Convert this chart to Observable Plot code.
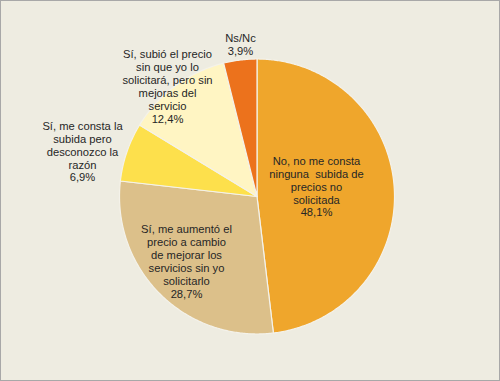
<!DOCTYPE html>
<html><head><meta charset="utf-8">
<script src="https://cdn.jsdelivr.net/npm/d3@7"></script>
<script src="https://cdn.jsdelivr.net/npm/@observablehq/plot@0.6"></script>
<style>
html,body{margin:0;padding:0;background:#eeece1;}
#chart svg{display:block;outline:1px solid #a8a8a8;outline-offset:-1px;}
</style></head><body><div id="chart"></div>
<script>
const categories = [
  "No, no me consta\nninguna  subida de\nprecios no\nsolicitada",
  "Sí, me aumentó el\nprecio a cambio\nde mejorar los\nservicios sin yo\nsolicitarlo",
  "Sí, me consta la\nsubida pero\ndesconozco la\nrazón",
  "Sí, subió el precio\nsin que yo lo\nsolicitará, pero sin\nmejoras del\nservicio",
  "Ns/Nc"
];
const values = [48.1, 28.7, 6.9, 12.4, 3.9];
const valueLabels = ["48,1%", "28,7%", "6,9%", "12,4%", "3,9%"];
const colors = ["#efa62c", "#dcc08a", "#fde04c", "#fff5c3", "#ec721c"];
const labelX = [316, 186, 82, 167, 240];
const labelY = [186, 261, 151, 86, 44];

const cx = 256.5, cy = 196, r = 137.5;
const arcs = d3.pie().sort(null).value(d => d)(values);
const pts = [];
arcs.forEach((p, i) => {
  const n = Math.max(2, Math.ceil((p.endAngle - p.startAngle) / 0.01));
  pts.push({k: i, x: cx, y: cy});
  for (let j = 0; j <= n; j++) {
    const a = p.startAngle + (p.endAngle - p.startAngle) * j / n;
    pts.push({k: i, x: cx + r * Math.sin(a), y: cy - r * Math.cos(a)});
  }
  pts.push({k: i, x: cx, y: cy});
});
const labels = categories.map((c, i) => ({text: c + "\n" + valueLabels[i], x: labelX[i], y: labelY[i]}));

const chart = Plot.plot({
  width: 500, height: 381,
  margin: 0,
  style: {background: "#eeece1", fontFamily: "'Liberation Sans', Arial, sans-serif"},
  x: {domain: [0, 500], range: [0, 500], axis: null},
  y: {domain: [0, 381], range: [0, 381], axis: null},
  color: {type: "ordinal", domain: d3.range(values.length), range: colors},
  marks: [
    Plot.line(pts, {x: "x", y: "y", z: "k", fill: "k", stroke: "#f4f2ea", strokeWidth: 1.2, curve: "linear"}),
    Plot.text(labels, {x: "x", y: "y", text: "text", fontSize: 11.2, lineHeight: 1.15, fill: "#262626"})
  ]
});
document.getElementById("chart").append(chart);
</script></body></html>
